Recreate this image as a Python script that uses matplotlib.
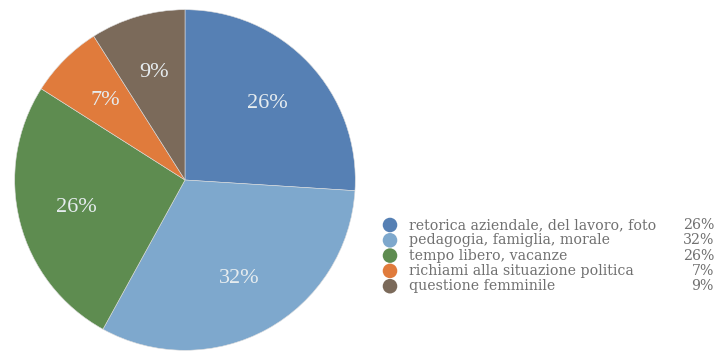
import numpy as np
import matplotlib.pyplot as plt

# shares of the themes (percent)
categories = ['retorica aziendale, del lavoro, foto',
              'pedagogia, famiglia, morale',
              'tempo libero, vacanze',
              'richiami alla situazione politica',
              'questione femminile']
values = [26, 32, 26, 7, 9]
pct_labels = ['26%', '32%', '26%', '7%', '9%']
colors = ['#5680b4', '#7ea8cd', '#5e8c50', '#e07b3c', '#7b6a5a']

plt.rcParams['font.family'] = ['Liberation Serif', 'DejaVu Serif']

fig = plt.figure(figsize=(7.19, 3.54), dpi=100)

# pie: centre ~ (185, 180) px, radius ~ 172 px
ax = fig.add_axes([13 / 719, 2 / 354, 344 / 719, 344 / 354])
wedges, _ = ax.pie(values, colors=colors, startangle=90, counterclock=False,
                   radius=1, wedgeprops=dict(linewidth=0.4, edgecolor='#dddddd'))
# percentage labels inside slices
for w, lab in zip(wedges, pct_labels):
    ang = np.deg2rad((w.theta1 + w.theta2) / 2)
    ax.text(0.66 * np.cos(ang), 0.66 * np.sin(ang), lab, ha='center', va='center',
            fontsize=16, color='#e6ecef')
ax.set_xlim(-1.01, 1.01)
ax.set_ylim(-1.01, 1.01)
ax.set_aspect('equal')
ax.axis('off')

# legend drawn in pixel coordinates
lax = fig.add_axes([0, 0, 1, 1])
lax.set_xlim(0, 719)
lax.set_ylim(354, 0)
lax.axis('off')
y0, dy = 225, 15.3
for i, (c, lab, p) in enumerate(zip(colors, categories, pct_labels)):
    y = y0 + i * dy
    lax.scatter([390], [y], s=110, color=c, edgecolors='none')
    lax.text(409, y, lab, ha='left', va='center', fontsize=10.2,
             family='DejaVu Serif', color='#707070')
    lax.text(714, y, p, ha='right', va='center', fontsize=10.2,
             family='DejaVu Serif', color='#707070')

fig.savefig('out.png', dpi=100)
